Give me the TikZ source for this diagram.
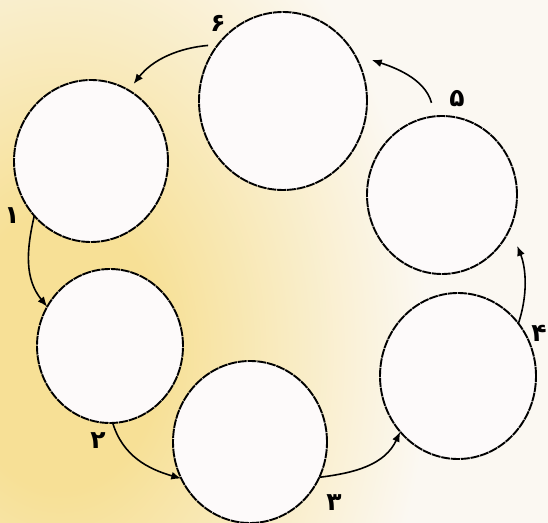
\documentclass[tikz,border=0pt]{standalone}
\usepackage{fontspec}
\newfontfamily\fadigits[Script=Arabic]{DejaVu Sans}
\usetikzlibrary{arrows.meta,shapes.geometric}
\definecolor{bgcream}{RGB}{251,248,242}
\definecolor{bgyellow}{RGB}{247,224,150}
\definecolor{cellfill}{RGB}{253,250,250}
\pgfdeclareradialshading{warmglow}{\pgfpoint{0bp}{0bp}}{color(0bp)=(bgyellow); color(2.5bp)=(bgyellow); color(9.2bp)=(bgcream); color(50bp)=(bgcream)}
\begin{document}
\begin{tikzpicture}[x=1pt,y=1pt,
  cell/.style={ellipse, draw=black, line width=1.9pt, fill=cellfill,
               dash pattern=on 9pt off 0.8pt, inner sep=0pt, outer sep=0pt},
  link/.style={line width=1.6pt, -{Latex[length=10pt,width=8pt]}},
  num/.style={font=\fadigits\bfseries\fontsize{25}{25}\selectfont, inner sep=0pt}]
\clip (0,0) rectangle (548,522);
\fill[bgcream] (0,0) rectangle (548,522);
\fill[shading=warmglow] (60,170) ellipse [x radius=1000, y radius=1380];

% circles
\node[cell, minimum width=168pt, minimum height=178pt] (T)  at (283,421) {};
\node[cell, minimum width=154pt, minimum height=162pt] (TL) at (91,361) {};
\node[cell, minimum width=146pt, minimum height=154pt] (LM) at (110,176) {};
\node[cell, minimum width=154pt, minimum height=162pt] (B)  at (250,80) {};
\node[cell, minimum width=156pt, minimum height=166pt] (RB) at (458,146) {};
\node[cell, minimum width=150pt, minimum height=158pt] (RT) at (442,327) {};

% connectors
\draw[link] (TL.224) to[out=-103, in=129] (LM.148);
\draw[link] (LM.272) to[out=-73, in=164] (B.208);
\draw[link] (B.333) to[out=7, in=-115] (RB.224);
\draw[link, shorten >=19pt] (RB.41) to[out=72, in=-68] (RT.-26);
\draw[link, shorten <=14pt, shorten >=18pt] (RT.95) to[out=105, in=-18] (T.33.5);
\draw[link, shorten <=10pt, shorten >=8pt] (T.139) to[out=185, in=52] (TL.62);

% labels
\node[num] (n1) at (12,306) {۱};
\node[num] (n2) at (98,81) {۲};
\node[num] (n3) at (334,19) {۳};
\node[num] (n4) at (539,189) {۴};
\node[num] (n5) at (457,423) {۵};
\node[num] (n6) at (218,499) {۶};
\end{tikzpicture}
\end{document}
